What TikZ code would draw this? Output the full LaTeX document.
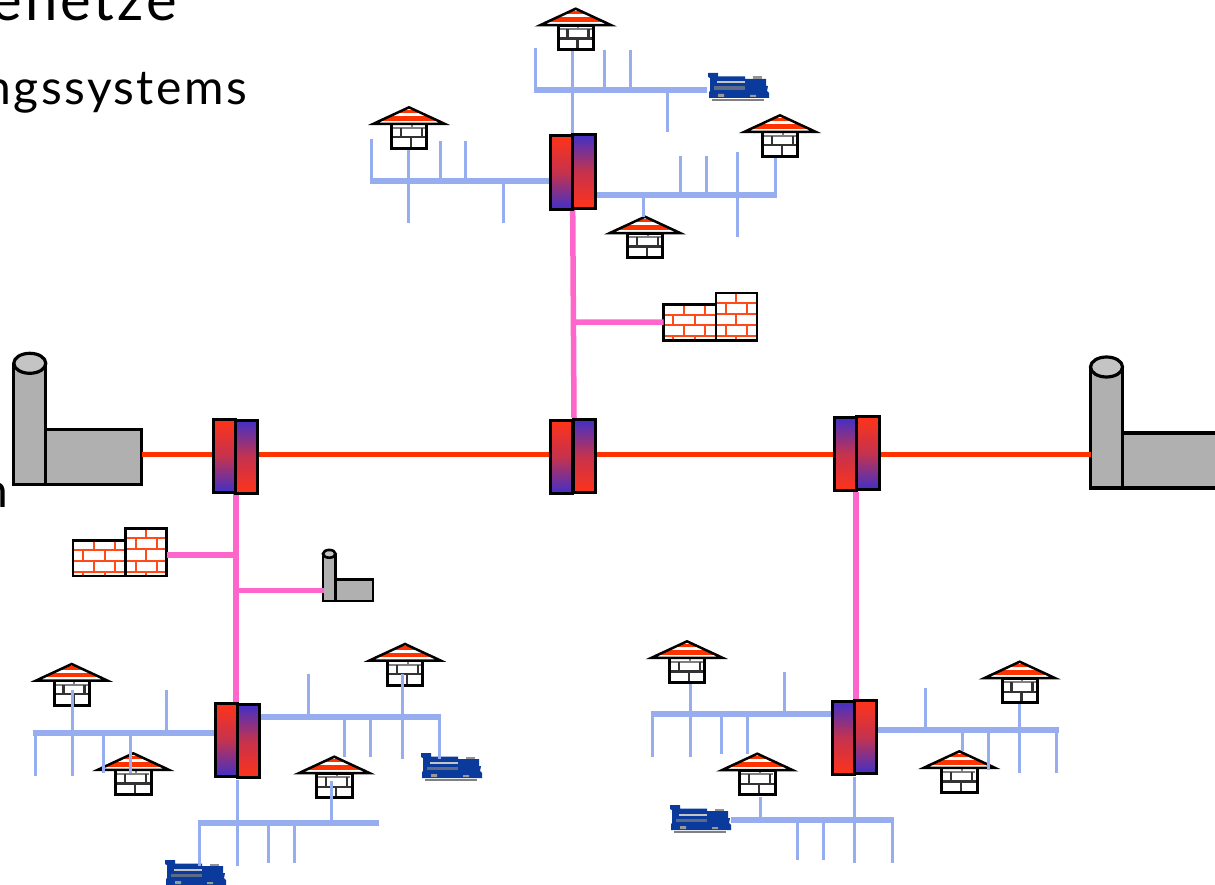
\documentclass[tikz,border=0pt]{standalone}
\usepackage{fontspec}
\setmainfont{Lato}
\newfontfamily\widelato[LetterSpace=5]{Lato}
\definecolor{busblue}{HTML}{96AEF0}
\definecolor{heatred}{HTML}{FF3300}
\definecolor{distpink}{HTML}{FF66CC}
\definecolor{hxred}{HTML}{FF3319}
\definecolor{hxblue}{HTML}{4030C8}
\definecolor{plant}{HTML}{B0B0B0}
\definecolor{plantlight}{HTML}{C4C4C4}
\definecolor{loco}{HTML}{0A3A9C}
\definecolor{brick}{HTML}{FF4A1A}
\tikzset{
  x=1pt,y=-1pt,
  busline/.style={draw=busblue,line width=6pt},
  stubline/.style={draw=busblue,line width=3pt},
  mainline/.style={draw=heatred,line width=5.5pt},
  pinkline/.style={draw=distpink,line width=5.5pt},
  hxbox/.style={draw=black,line width=3pt,inner sep=0pt,outer sep=0pt,minimum width=22.2pt,minimum height=73.6pt},
  hxrb/.style={hxbox,top color=hxred,bottom color=hxblue,middle color=hxred!70!hxblue},
  hxbr/.style={hxbox,top color=hxblue,bottom color=hxred,middle color=hxred!70!hxblue},
  smalltext/.style={anchor=base east,inner sep=0pt,font=\fontsize{48pt}{48pt}\widelato,text=black},
  largetext/.style={anchor=base east,inner sep=0pt,font=\fontsize{58pt}{58pt}\widelato,text=black},
  house/.pic={
    \fill[white] (-17.7,16.5) rectangle (17.7,41);
    \draw[gray,line width=2pt] (-16,20.5) -- (16,20.5) (2.7,16.5) -- (2.7,20.5);
    \draw[black!80,line width=2.4pt] (-17.7,30) -- (17.7,30) (-8.3,20.5) -- (-8.3,30) (12.7,20.5) -- (12.7,30) (1.7,30) -- (1.7,41);
    \draw[black,line width=3pt] (-17.7,16.5) rectangle (17.7,41);
    \fill[white] (0,0) -- (39,16.5) -- (-39,16.5) -- cycle;
    \begin{scope}
      \clip (0,0) -- (39,16.5) -- (-39,16.5) -- cycle;
      \fill[heatred] (-39,2.3) rectangle (39,5.7);
      \fill[heatred] (-39,8.7) rectangle (39,13.3);
    \end{scope}
    \draw[black,line width=2.5pt,line join=miter] (0,0) -- (35.5,16.5) -- (-35.5,16.5) -- cycle;
  },
  factory/.pic={
    \fill[plant] (0,0) rectangle (32,-121);
    \draw[black,line width=#1] (0,-121) -- (0,0) -- (32,0) -- (32,-121);
    \draw[black,line width=#1,fill=plantlight] (16,-121) ellipse [x radius=16,y radius=10];
    \draw[black,line width=#1,fill=plant] (32,-55) rectangle (128,0);
    \coordinate (-e) at (128,-28);
    \coordinate (-w) at (0,-28);
  },
  factory/.default=3.2pt,
  brickwall/.pic={
    \fill[white] (1.2,-37) rectangle (53.5,-1.2);
    \fill[white] (53.5,-48.8) rectangle (94.8,-1.2);
    \draw[brick,line width=2.2pt]
      (1.2,-27) -- (53.5,-27) (1.2,-16.5) -- (53.5,-16.5) (1.2,-5.5) -- (53.5,-5.5)
      (53.5,-39) -- (94.8,-39) (53.5,-28) -- (94.8,-28) (53.5,-16.5) -- (94.8,-16.5) (53.5,-5.5) -- (94.8,-5.5)
      (22,-37) -- (22,-27) (43,-37) -- (43,-27)
      (11,-27) -- (11,-16.5) (33,-27) -- (33,-16.5)
      (22,-16.5) -- (22,-5.5) (43,-16.5) -- (43,-5.5)
      (11,-5.5) -- (11,-1.2) (33,-5.5) -- (33,-1.2)
      (74,-48.8) -- (74,-39) (64,-39) -- (64,-28) (85,-39) -- (85,-28)
      (74,-28) -- (74,-16.5) (64,-16.5) -- (64,-5.5) (85,-16.5) -- (85,-5.5) (74,-5.5) -- (74,-1.2);
    \draw[black,line width=2.6pt] (1.2,-37) rectangle (53.5,-1.2);
    \draw[black,line width=2.6pt] (53.5,-48.8) rectangle (94.8,-1.2);
    \coordinate (-w) at (1.2,-19.5);
    \coordinate (-e) at (94.8,-22.3);
  },
  engine/.pic={
    \fill[loco] (1,0) -- (11,0) -- (11,3.5) -- (38,3.5) -- (38,6) -- (59,6) -- (59,13) -- (61,13) -- (60,18) -- (62,20) -- (62,25) -- (2,25) -- (2,19) -- (3,18) -- (3,5) -- (1,4) -- cycle;
    \fill[plantlight] (10,8.5) rectangle (38,10.5);
    \fill[gray!70!loco] (7,13.5) rectangle (38,17);
    \fill[gray!85] (46,3.5) rectangle (55,6);
    \fill[gray!80] (11,21) rectangle (17,24) (43,22) rectangle (49,24);
    \fill[gray] (5,26) rectangle (57,28);
    \coordinate (-e) at (62,15);
    \coordinate (-w) at (0,15);
  }
}
\begin{document}
\begin{tikzpicture}
\useasboundingbox (0,0) rectangle (1215,885);
\clip (0,0) rectangle (1215,885);
\fill[white] (0,0) rectangle (1215,885);

% text fragments
\node[largetext] (t1) at (177,20.5) {enetze};
\node[smalltext] (t2) at (247,105) {ngssystems};
\node[smalltext] (t3) at (8.5,507) {n};

% houses
\foreach \n/\x/\y in {1/575.7/8.7,2/409/107.3,3/780/115.3,4/645/216.7,5/71.7/664,6/133.3/753.3,7/334.3/756.7,8/405/644,9/687/641.3,10/757.3/753.7,11/959.3/751.3,12/1019.7/661.7}
  \pic (h\n) at (\x,\y) {house};

% plants
\pic (fL) at (13.8,484.3) {factory=3.2pt};
\pic (fR) at (1090.5,488) {factory=3.2pt};
\pic[scale=.39] (fS) at (323,601) {factory=2.6pt};

% walls
\pic (wT) at (662.3,341.7) {brickwall};
\pic (wL) at (71.7,577.3) {brickwall};

% engines
\pic (e1) at (707,73) {engine};
\pic (e2) at (420,753) {engine};
\pic (e3) at (164,860) {engine};
\pic (e4) at (669,805) {engine};

% exchanger positions
\path
  node[hxbox,draw=none,at={(561.7,172.6)}] (x1a) {}
  node[hxbox,draw=none,at={(584,171.5)}] (x1b) {}
  node[hxbox,draw=none,at={(561.7,457)}] (x2a) {}
  node[hxbox,draw=none,at={(584.3,456)}] (x2b) {}
  node[hxbox,draw=none,at={(224.4,456)}] (x3a) {}
  node[hxbox,draw=none,at={(246.5,457)}] (x3b) {}
  node[hxbox,draw=none,at={(845.7,454)}] (x4a) {}
  node[hxbox,draw=none,at={(868,453)}] (x4b) {}
  node[hxbox,draw=none,at={(226.7,740)}] (x5a) {}
  node[hxbox,draw=none,at={(248.8,741)}] (x5b) {}
  node[hxbox,draw=none,at={(843.4,738)}] (x6a) {}
  node[hxbox,draw=none,at={(865.8,737)}] (x6b) {};

% branch stubs
\foreach \n/\x/\a/\b in {
  a1/535.5/48/90,a2/572.7/51/133,a3/604.3/50/90,a4/630.3/50/90,a5/667.6/90/132,
  b1/371/139/181,b2/408.5/150/223,b3/440/141/181,b4/465.7/141/181,b5/503.3/181/223,
  c1/643.5/195/217,c2/680/155.7/195,c3/706.3/155.7/195,c4/737.7/152/237.3,c5/775.3/158/195,
  d1/35.3/733/775.7,d2/72.3/690/775.7,d3/103.7/733/772.7,d4/130/733/772.7,d5/166.3/690/733,
  e1/308/674.3/717,e2/344.3/717/756.7,e3/370.7/717/756.7,e4/402/674.3/759.3,e5/439.3/717/759.3,
  f1/199.7/823/866,f2/237.3/780/865.7,f3/268.7/823/862.7,f4/294.7/823/862.7,f5/331.7/781/823,
  g1/652.7/714/756.7,g2/690.3/684.3/756.7,g3/721.3/714/754,g4/747.7/714/754,g5/784/671.7/714,
  k1/925.3/687.7/730,k2/962.3/730/751,k3/988.3/730/770,k4/1019.7/704/772.7,k5/1056.7/730/772.7,
  m1/760.3/796.7/820,m2/797.3/820/860,m3/823.3/820/860,m4/854.7/777/862.7,m5/892.3/820/862.7}
{
  \coordinate (s\n t) at (\x,\a);
  \coordinate (s\n u) at (\x,\b);
  \draw[stubline] (s\n t) -- (s\n u);
}

% bus free ends
\coordinate (busA) at (534,90);
\coordinate (busB) at (369.5,181);
\coordinate (busC) at (776.7,195.3);
\coordinate (busD) at (33.3,733);
\coordinate (busE) at (441.3,717);
\coordinate (busF0) at (198.3,823);
\coordinate (busF1) at (378.7,823);
\coordinate (busG) at (651,714.3);
\coordinate (busH) at (1058.7,730.3);
\coordinate (busI) at (894,820.3);

\draw[busline] (busA) -- (busA -| e1-w);
\draw[busline] (busB) -- (busB -| x1a.west);
\draw[busline] (busC) -- (busC -| x1b.east);
\draw[busline] (busD) -- (busD -| x5a.west);
\draw[busline] (busE) -- (busE -| x5b.east);
\draw[busline] (busF0) -- (busF1);
\draw[busline] (busG) -- (busG -| x6a.west);
\draw[busline] (busH) -- (busH -| x6b.east);
\draw[busline] (busI) -- (busI -| e4-e);

% heat main
\coordinate (mainStart) at (142,454.5);
\draw[mainline] (mainStart) -- (mainStart -| fR-w);

% pink distribution
\coordinate (pT0) at (572.7,209);
\coordinate (pT1) at (574,418);
\draw[pinkline] (pT0) -- (pT1);
\coordinate (jT) at (574,322);
\draw[pinkline] (jT) -- (wT-w);
\coordinate (pL0) at (236,494);
\coordinate (pL1) at (236,702);
\draw[pinkline] (pL0) -- (pL1);
\coordinate (jL1) at (236,555);
\coordinate (jL2) at (236,590.7);
\coordinate (jL3) at (324,590.7);
\draw[pinkline] (wL-e) -- (jL1);
\draw[pinkline] (jL2) -- (jL3);
\coordinate (pR0) at (856,492);
\coordinate (pR1) at (856,700);
\draw[pinkline] (pR0) -- (pR1);

% exchangers
\node[hxrb,at={(x1a)}] (X1a) {};
\node[hxbr,at={(x1b)}] (X1b) {};
\node[hxrb,at={(x2a)}] (X2a) {};
\node[hxbr,at={(x2b)}] (X2b) {};
\node[hxrb,at={(x3a)}] (X3a) {};
\node[hxbr,at={(x3b)}] (X3b) {};
\node[hxbr,at={(x4a)}] (X4a) {};
\node[hxrb,at={(x4b)}] (X4b) {};
\node[hxrb,at={(x5a)}] (X5a) {};
\node[hxbr,at={(x5b)}] (X5b) {};
\node[hxbr,at={(x6a)}] (X6a) {};
\node[hxrb,at={(x6b)}] (X6b) {};
\end{tikzpicture}
\end{document}
